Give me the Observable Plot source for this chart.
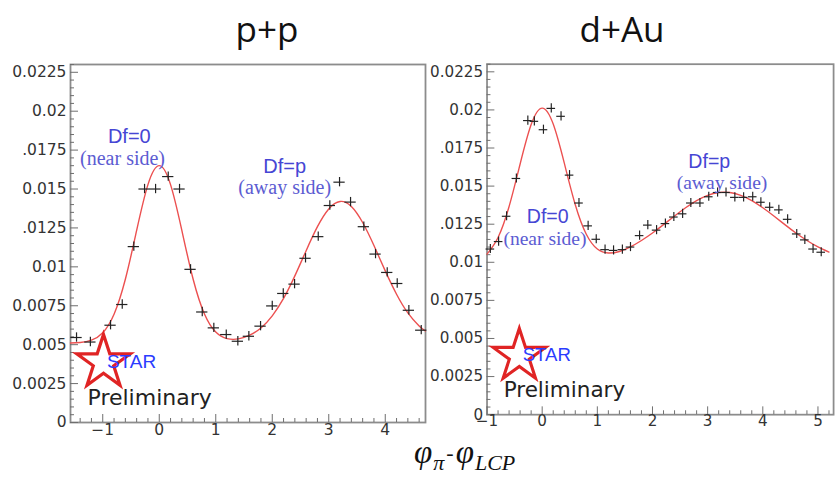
<!DOCTYPE html>
<html>
<head>
<meta charset="utf-8">
<script src="https://cdn.jsdelivr.net/npm/d3@7"></script>
<script src="https://cdn.jsdelivr.net/npm/@observablehq/plot@0.6"></script>
<style>
  html, body { margin: 0; padding: 0; background: #fff; }
  #chart { position: relative; width: 838px; height: 488px; overflow: hidden; background: #fff; }
  .title { position: absolute; top: 11px; font-family: "Open Sans"; font-size: 35px; line-height: 35px; color: #111; transform: translateX(-50%); white-space: nowrap; }
  .panel { position: absolute; top: 50px; }
  .panel svg text.ticklab { font-size: 15.5px; font-family: "DejaVu Sans"; }
  #xlabel { position: absolute; left: 414px; top: 436px; font-family: "Liberation Serif"; font-style: italic; font-size: 33px; line-height: 33px; color: #111; white-space: nowrap; }
  #xlabel .sub { font-size: 22px; position: relative; top: 7px; margin-left: 1px; }
  #xlabel .dash { font-style: normal; font-size: 22px; position: relative; top: -3px; margin: 0 2px; }
</style>
</head>
<body>
<div id="chart">
  <div class="title" style="left:267px">p+p</div>
  <div class="title" style="left:622px">d+Au</div>
  <div class="panel" id="pp" style="left:0px"></div>
  <div class="panel" id="dau" style="left:418px"></div>
  <div id="xlabel">φ<span class="sub">π</span><span class="dash">-</span>φ<span class="sub">LCP</span></div>
</div>
<script>
// p+p correlation: bin centres (rad) and per-trigger yields
const ppX = [-1.464, -1.219, -0.862, -0.655, -0.450, -0.260, -0.065, 0.159, 0.359, 0.554,
             0.761, 0.966, 1.186, 1.391, 1.586, 1.793, 2.000, 2.195, 2.395, 2.589,
             2.814, 3.019, 3.191, 3.386, 3.621, 3.828, 4.035, 4.212, 4.418, 4.637];
const ppY = [0.00546, 0.00517, 0.00625, 0.00758, 0.0113, 0.0150, 0.0150, 0.0158, 0.0150, 0.00984,
             0.0071, 0.00608, 0.00565, 0.00522, 0.00554, 0.00619, 0.00749, 0.00829, 0.00889, 0.01055,
             0.01194, 0.01394, 0.01544, 0.01416, 0.01258, 0.01082, 0.00964, 0.00893, 0.00721, 0.00593];

// p+p double-peak fit
const ppFitX = [-1.571, -1.4, -1.2, -1.0, -0.8, -0.6, -0.4, -0.2, 0.0, 0.2, 0.4, 0.6, 0.8, 1.0, 1.2, 1.4,
                1.6, 1.8, 2.0, 2.2, 2.4, 2.6, 2.8, 3.0, 3.2, 3.4, 3.6, 3.8, 4.0, 4.2, 4.4, 4.6, 4.712];
const ppFitY = [0.00511, 0.00514, 0.00529, 0.00577, 0.00696, 0.0092, 0.01234, 0.01528, 0.0165, 0.01528,
                0.01234, 0.0092, 0.00697, 0.00581, 0.00539, 0.00537, 0.00561, 0.00607, 0.00685, 0.00797,
                0.00942, 0.01104, 0.01258, 0.01372, 0.0142, 0.01388, 0.01285, 0.01137, 0.00974, 0.00824,
                0.00704, 0.0062, 0.00588];

// d+Au correlation
const dauX = [-0.94, -0.79, -0.645, -0.468, -0.26, -0.142, 0.023, 0.165, 0.342, 0.496,
              0.667, 0.833, 0.98, 1.14, 1.294, 1.454, 1.601, 1.766, 1.915, 2.074,
              2.234, 2.387, 2.546, 2.695, 2.86, 3.02, 3.18, 3.333, 3.493, 3.652,
              3.817, 3.965, 4.124, 4.291, 4.45, 4.615, 4.762, 4.911, 5.059];
const dauY = [0.01087, 0.01136, 0.01302, 0.0155, 0.0193, 0.01925, 0.0187, 0.0201, 0.01958, 0.01572,
              0.01389, 0.01239, 0.01151, 0.01083, 0.01078, 0.01083, 0.0110, 0.01175, 0.01244, 0.01211,
              0.01254, 0.01297, 0.01318, 0.01389, 0.01389, 0.0143, 0.01458, 0.01458, 0.01426, 0.01426,
              0.0143, 0.01394, 0.01361, 0.01344, 0.01282, 0.01186, 0.01147, 0.01087, 0.01066];

// d+Au double-peak fit
const dauFitX = [-1.0, -0.8, -0.6, -0.4, -0.2, 0.0, 0.2, 0.4, 0.6, 0.8, 1.0, 1.2, 1.4, 1.6, 1.8, 2.0,
                 2.2, 2.4, 2.6, 2.8, 3.0, 3.2, 3.4, 3.6, 3.8, 4.0, 4.2, 4.4, 4.6, 4.8, 5.0, 5.2];
const dauFitY = [0.01054, 0.01163, 0.01366, 0.01645, 0.01904, 0.02012, 0.01907, 0.01652, 0.01378, 0.01184,
                 0.01087, 0.01061, 0.01071, 0.01101, 0.01143, 0.01192, 0.01247, 0.01304, 0.01358, 0.01405,
                 0.01439, 0.01458, 0.01458, 0.01439, 0.01405, 0.01358, 0.01304, 0.01247, 0.01192, 0.01143,
                 0.01101, 0.01067];

// half bin widths (rad) and statistical error (yield)
const ppHalfBin = 0.10;
const dauHalfBin = 0.078;
const yErr = 0.0003;

// axis ticks and their printed labels
const yTicks = [0, 0.0025, 0.005, 0.0075, 0.01, 0.0125, 0.015, 0.0175, 0.02, 0.0225];
const yTickLabels = ["0", "0.0025", "0.005", "0.0075", "0.01", ".0125", "0.015", ".0175", "0.02", "0.0225"];
const ppXTicks = [-1, 0, 1, 2, 3, 4];
const dauXTicks = [-1, 0, 1, 2, 3, 4, 5];
const xTickLabels = ["−1", "0", "1", "2", "3", "4", "5"];

// peak annotations
const ppNotes = [
  {x: -0.53, y: 0.01840, head: "Df=0"},
  {x: -0.65, y: 0.01695, sub: "(near side)"},
  {x: 2.22, y: 0.01645, head: "Df=p"},
  {x: 2.22, y: 0.01508, sub: "(away side)"}
];
const dauNotes = [
  {x: 0.10, y: 0.01299, head: "Df=0"},
  {x: 0.05, y: 0.01156, sub: "(near side)"},
  {x: 3.03, y: 0.01657, head: "Df=p"},
  {x: 3.26, y: 0.01522, sub: "(away side)"}
];

const yLabel = new Map(yTicks.map((v, i) => [v, yTickLabels[i]]));
const xLabel = new Map([-1, 0, 1, 2, 3, 4, 5].map((v, i) => [v, xTickLabels[i]]));
const yMinor = d3.range(0, 0.02301, 0.0005).filter(v => Math.abs(v / 0.0025 - Math.round(v / 0.0025)) > 1e-6);

function panel({xDomain, width, xs, ys, fitX, fitY, halfBin, xTicks, notes}) {
  const pts = xs.map((x, i) => ({x, y: ys[i]}));
  const fit = fitX.map((x, i) => ({x, y: fitY[i]}));
  const xMinor = d3.range(Math.ceil(xDomain[0] * 5) / 5, xDomain[1], 0.2)
    .filter(v => Math.abs(v - Math.round(v)) > 1e-6);
  const axisColor = "#6e6e6e";
  const tickFont = {fontSize: "15.5px", fontFamily: "DejaVu Sans", fill: "#333", className: "ticklab"};
  const svg = Plot.plot({
    width, height: 400,
    marginLeft: 70, marginRight: 5, marginTop: 14, marginBottom: 28,
    x: {domain: xDomain},
    y: {domain: [0, 0.0230]},
    style: {background: "transparent", overflow: "visible"},
    marks: [
      Plot.frame({stroke: "#8c8c8c", strokeWidth: 1.8}),
      // ticks point into the frame
      Plot.axisY(yMinor, {tickSize: -4, fill: "none", stroke: axisColor, label: null}),
      Plot.axisY(yTicks, {tickSize: -8, fill: "none", stroke: axisColor, label: null}),
      Plot.axisX(xMinor, {tickSize: -4, fill: "none", stroke: axisColor, label: null}),
      Plot.axisX(xTicks, {tickSize: -8, fill: "none", stroke: axisColor, label: null}),
      // tick labels
      Plot.text(yTicks, {y: d => d, frameAnchor: "left", dx: -4, textAnchor: "end",
        text: d => yLabel.get(d), ...tickFont}),
      Plot.text(xTicks, {x: d => d, frameAnchor: "bottom", dy: 12, textAnchor: "middle",
        text: d => xLabel.get(d), ...tickFont}),
      Plot.line(fit, {x: "x", y: "y", stroke: "#ec5050", strokeWidth: 1.4, curve: "natural"}),
      Plot.ruleY(pts, {y: "y", x1: d => d.x - halfBin, x2: d => d.x + halfBin, stroke: "#222", strokeWidth: 1.2}),
      Plot.ruleX(pts, {x: "x", y1: d => d.y - yErr, y2: d => d.y + yErr, stroke: "#222", strokeWidth: 1.2}),
      Plot.text(notes.filter(d => d.head), {x: "x", y: "y", text: "head", fill: "#4646d4",
        fontSize: 20, fontFamily: "Liberation Sans"}),
      Plot.text(notes.filter(d => d.sub), {x: "x", y: "y", text: "sub", fill: "#5c5cd2",
        fontSize: 20, fontFamily: "Liberation Serif"}),
      // STAR logo and preliminary stamp
      Plot.dot([0], {frameAnchor: "bottom-left", dx: 33, dy: -60, symbol: "star", r: 16.8,
        stroke: "#e02424", strokeWidth: 3.2, fill: "none"}),
      Plot.text(["STAR"], {frameAnchor: "bottom-left", dx: 61, dy: -55, text: d => d, textAnchor: "middle",
        fill: "#2b3cff", fontSize: 19, fontFamily: "Liberation Sans"}),
      Plot.text(["Preliminary"], {frameAnchor: "bottom-left", dx: 17, dy: -18, text: d => d,
        textAnchor: "start", fill: "#222", fontSize: 22, fontFamily: "DejaVu Sans"})
    ]
  });
  // tick label text elements carry the class via their group
  svg.querySelectorAll("g.ticklab text").forEach(t => t.classList.add("ticklab"));
  return svg;
}

document.getElementById("pp").append(panel({
  xDomain: [-Math.PI / 2, 3 * Math.PI / 2], width: 430,
  xs: ppX, ys: ppY, fitX: ppFitX, fitY: ppFitY, halfBin: ppHalfBin,
  xTicks: ppXTicks, notes: ppNotes
}));
document.getElementById("dau").append(panel({
  xDomain: [-1, -1 + 2 * Math.PI], width: 429,
  xs: dauX, ys: dauY, fitX: dauFitX, fitY: dauFitY, halfBin: dauHalfBin,
  xTicks: dauXTicks, notes: dauNotes
}));
</script>
</body>
</html>
